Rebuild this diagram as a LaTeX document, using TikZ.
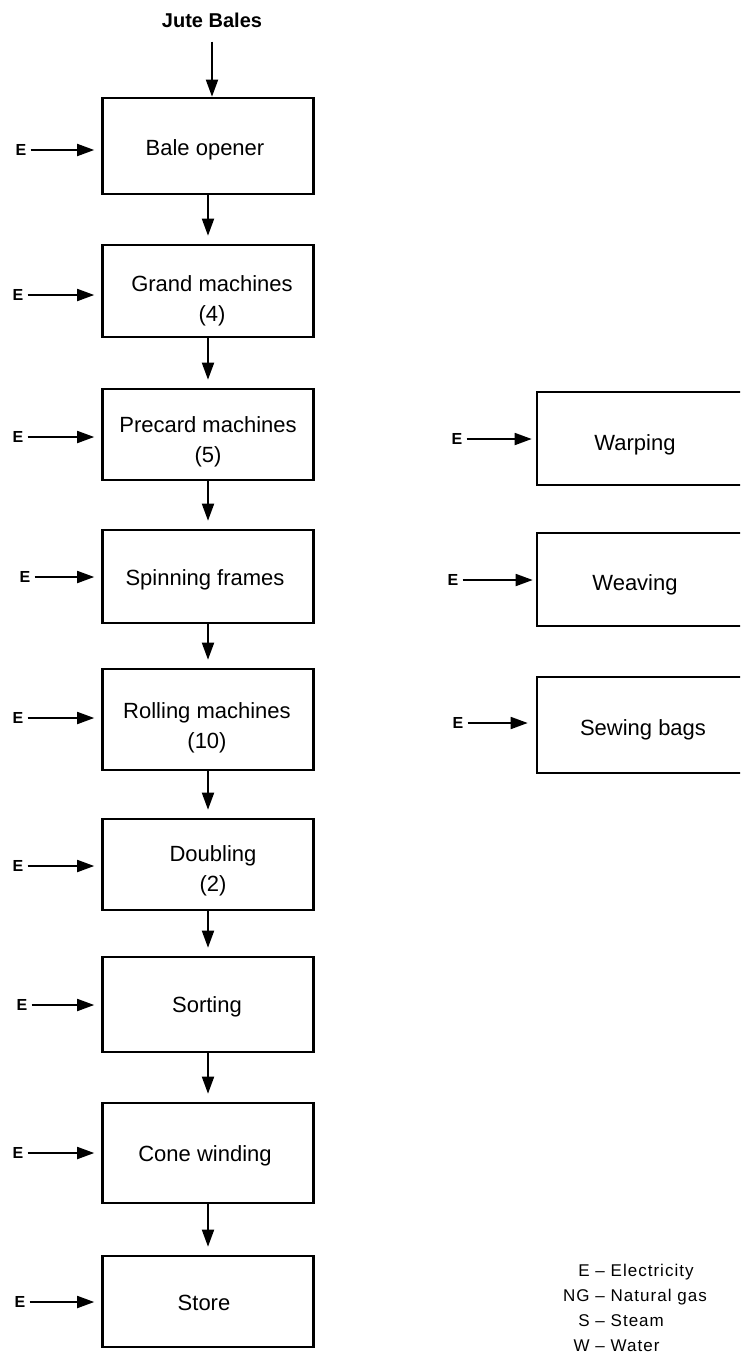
\documentclass[tikz,border=0pt]{standalone}
\usepackage{fontspec}
\setmainfont{Liberation Sans}
\usetikzlibrary{arrows.meta}
\begin{document}
\begin{tikzpicture}[x=1pt,y=-1pt,
  stage/.style={draw, line width=2.6pt, minimum width=211pt, inner sep=0pt},
  side/.style={draw, line width=2.6pt, minimum width=223pt, minimum height=93pt, inner sep=0pt},
  stagetext/.style={font=\fontsize{22}{30}\selectfont, align=center, inner sep=0pt},
  elabel/.style={font=\fontsize{16}{18}\selectfont\bfseries, inner sep=0pt},
  flow/.style={line width=1.8pt, -{Triangle[length=17pt,width=12pt]}},
  feed/.style={flow, shorten <=4pt, shorten >=7pt},
]
\useasboundingbox (0,0) rectangle (740,1355);
\clip (0,0) rectangle (740,1355);

% raw material
\node[font=\fontsize{20}{22}\selectfont\bfseries, inner sep=0pt] (jute) at (212,20) {Jute Bales};

% main processing line
\node[stage, minimum height=96pt]  (bale)  at (208,146)   {};
\node[stage, minimum height=92pt]  (grand) at (208,291)   {};
\node[stage, minimum height=91pt]  (prec)  at (208,434.5) {};
\node[stage, minimum height=93pt]  (spin)  at (208,576.5) {};
\node[stage, minimum height=101pt] (roll)  at (208,719.5) {};
\node[stage, minimum height=91pt]  (doub)  at (208,864.5) {};
\node[stage, minimum height=95pt]  (sort)  at (208,1004.5){};
\node[stage, minimum height=100pt] (cone)  at (208,1153)  {};
\node[stage, minimum height=91pt]  (store) at (208,1301.5){};

\node[stagetext] (tbale)  at (205,150)  {Bale opener};
\node[stagetext] (tgrand) at (212,301)  {Grand machines\\(4)};
\node[stagetext] (tprec)  at (208,442)  {Precard machines\\(5)};
\node[stagetext] (tspin)  at (205,580)  {Spinning frames};
\node[stagetext] (troll)  at (207,728)  {Rolling machines\\(10)};
\node[stagetext] (tdoub)  at (213,871)  {Doubling\\(2)};
\node[stagetext] (tsort)  at (207,1007) {Sorting};
\node[stagetext] (tcone)  at (205,1156) {Cone winding};
\node[stagetext] (tstore) at (204,1303) {Store};

% weaving section
\node[side] (warp)  at (648.5,438.5) {};
\node[side] (weave) at (648.5,579.5) {};
\node[side, minimum height=96pt] (sew) at (648.5,725) {};
\node[stagetext] (twarp)  at (635,445) {Warping};
\node[stagetext] (tweave) at (635,585) {Weaving};
\node[stagetext] (tsew)   at (643,730) {Sewing bags};

% material flow
\draw[flow] (jute.south) ++(0,14) -- (jute.south |- bale.north);
\draw[flow, shorten >=8pt] (bale.south) -- (grand.north);
\draw[flow, shorten >=8pt] (grand.south) -- (prec.north);
\draw[flow, shorten >=8pt] (prec.south) -- (spin.north);
\draw[flow, shorten >=8pt] (spin.south) -- (roll.north);
\draw[flow, shorten >=8pt] (roll.south) -- (doub.north);
\draw[flow, shorten >=8pt] (doub.south) -- (sort.north);
\draw[flow, shorten >=8pt] (sort.south) -- (cone.north);
\draw[flow, shorten >=8pt] (cone.south) -- (store.north);

% electricity inputs
\node[elabel] (eBale)  at (21,150)  {E};
\node[elabel] (eGrand) at (18,295)  {E};
\node[elabel] (ePrec)  at (18,437)  {E};
\node[elabel] (eSpin)  at (25,577)  {E};
\node[elabel] (eRoll)  at (18,718)  {E};
\node[elabel] (eDoub)  at (18,866)  {E};
\node[elabel] (eSort)  at (22,1005) {E};
\node[elabel] (eCone)  at (18,1153) {E};
\node[elabel] (eStore) at (20,1302) {E};
\node[elabel] (eWarp)  at (457,439) {E};
\node[elabel] (eWeave) at (453,580) {E};
\node[elabel] (eSew)   at (458,723) {E};

\draw[feed] (eBale.east)  -- (eBale.east -| bale.west);
\draw[feed] (eGrand.east) -- (eGrand.east -| grand.west);
\draw[feed] (ePrec.east)  -- (ePrec.east -| prec.west);
\draw[feed] (eSpin.east)  -- (eSpin.east -| spin.west);
\draw[feed] (eRoll.east)  -- (eRoll.east -| roll.west);
\draw[feed] (eDoub.east)  -- (eDoub.east -| doub.west);
\draw[feed] (eSort.east)  -- (eSort.east -| sort.west);
\draw[feed] (eCone.east)  -- (eCone.east -| cone.west);
\draw[feed] (eStore.east) -- (eStore.east -| store.west);
\draw[feed, shorten >=4pt] (eWarp.east)  -- (eWarp.east -| warp.west);
\draw[feed, shorten >=3pt] (eWeave.east) -- (eWeave.east -| weave.west);
\draw[feed, shorten >=8pt] (eSew.east)   -- (eSew.east -| sew.west);

% key
\node[anchor=base west, inner sep=0pt,
      font=\fontsize{17}{25}\selectfont\addfontfeatures{LetterSpace=6}] (key) at (563,1276)
  {\begin{tabular}[t]{@{}r@{\ -- }l@{}}
     E  & Electricity\\
     NG & Natural gas\\
     S  & Steam\\
     W  & Water
   \end{tabular}};
\end{tikzpicture}
\end{document}
